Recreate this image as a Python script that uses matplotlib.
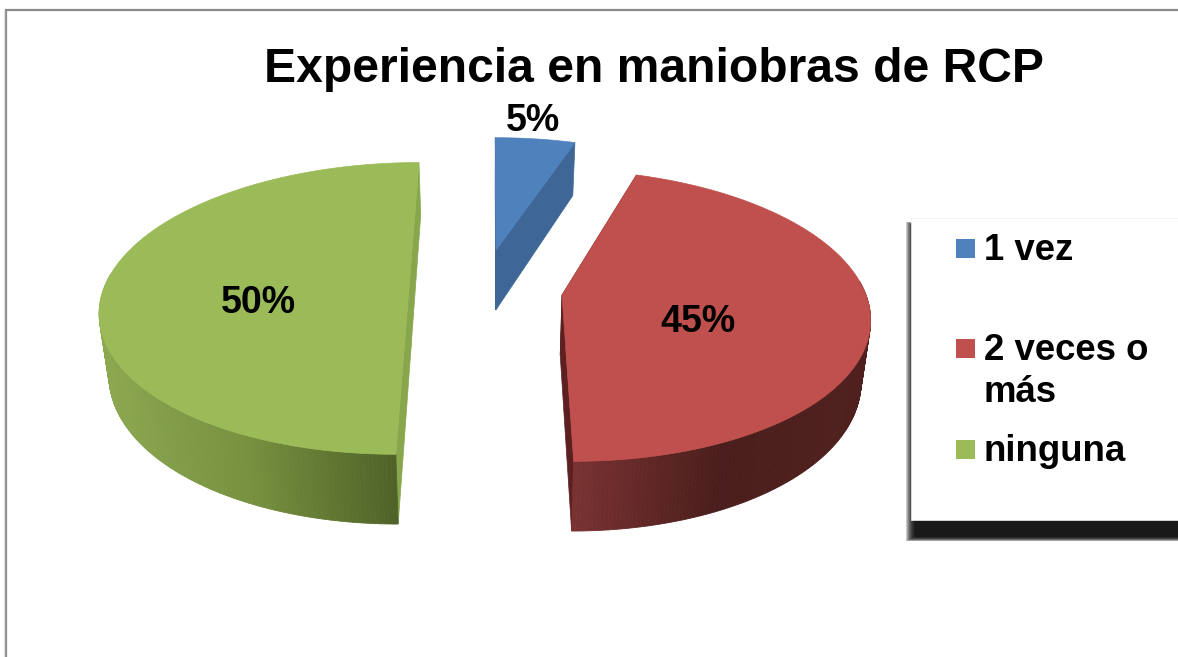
import numpy as np
import matplotlib
matplotlib.use("Agg")
import matplotlib.pyplot as plt
from matplotlib.colors import LinearSegmentedColormap
from matplotlib.patches import Rectangle

# Exploded 3D pie, perspective done by hand in pixel coordinates

title = "Experiencia en maniobras de RCP"
labels = ["1 vez", "2 veces o\nmás", "ninguna"]
values = [5, 45, 50]
pct_labels = ["5%", "45%", "50%"]

top_colors = ["#4F81BD", "#C0504D", "#9BBB59"]
cut_colors = ["#3E6797", "#5C2020", "#88A64C"]
wall_stops = [["#3E6797", "#3E6797"],
              ["#7A3232", "#4A1E1C", "#4F201E"],
              ["#8CA850", "#77913F", "#4F6328"]]

apex_x = [496, 562, 409]
apex_y = [250, 295, 288]
radius_x = [292, 304, 305]
radius_y = [128, 143, 143]
pct_x = [533, 698, 258]
pct_y = [121, 322, 303]
legend_y = [248, 348, 449]

vanish_x = 490
persp = 0.14
depth = 60
bottom_shrink = 0.975

plt.rcParams['font.family'] = ['Liberation Sans', 'DejaVu Sans']

fig = plt.figure(figsize=(11.78, 6.57), dpi=100)
ax = fig.add_axes([0, 0, 1, 1])
ax.set_xlim(0, 1178)
ax.set_ylim(657, 0)
ax.axis('off')

# page border
ax.plot([5.5, 5.5, 1178], [657, 10, 10], color="#8A8A8A", lw=1.6, solid_joinstyle='miter')
ax.plot([4, 4], [11, 657], color="#E2E2E2", lw=1)


def project(i, theta):
    u, v = np.cos(theta), np.sin(theta)
    s = 1 / (1 + persp * v)
    x = vanish_x + (apex_x[i] - vanish_x + radius_x[i] * u) * s
    y = apex_y[i] - radius_y[i] * v * s
    xb = vanish_x + (x - vanish_x) * bottom_shrink
    yb = y + depth * s
    return x, y, xb, yb


fractions = np.array(values) / sum(values)
ends = np.pi / 2 - np.cumsum(fractions) * 2 * np.pi
starts = np.r_[np.pi / 2, ends[:-1]]

# far slices first so the near ones sit over them
for i in [0, 2, 1]:
    th = np.linspace(starts[i], ends[i], 240)
    x, y, xb, yb = project(i, th)
    ax_ = apex_x[i]
    ay = apex_y[i]
    bx = vanish_x + (ax_ - vanish_x) * bottom_shrink
    by = ay + depth

    # cut faces
    ax.fill([x[0], xb[0], bx, ax_], [y[0], yb[0], by, ay], color=cut_colors[i], lw=0.5, zorder=2)
    ax.fill([x[-1], xb[-1], bx, ax_], [y[-1], yb[-1], by, ay], color=cut_colors[i], lw=0.5, zorder=2)

    # outer wall, lower half only, shaded by x
    cmap = LinearSegmentedColormap.from_list("wall", wall_stops[i])
    low = np.where(np.sin(th) < 0.1)[0]
    if len(low) > 1:
        xmin, xmax = x[low].min(), x[low].max()
        for a, b in zip(low[:-1], low[1:]):
            t = (x[a] - xmin) / (xmax - xmin)
            col = cmap(t)
            ax.fill([x[a], x[b], xb[b], xb[a]], [y[a], y[b], yb[b], yb[a]],
                    color=col, lw=0.6, zorder=3)

    # top face
    ax.fill(np.r_[ax_, x], np.r_[ay, y], color=top_colors[i], lw=0.5, zorder=4)
    ax.text(pct_x[i], pct_y[i], pct_labels[i], fontsize=27, fontweight='bold',
            ha='center', va='center', color='black', zorder=6)

ax.text(654, 70, title, fontsize=34.6, fontweight='bold', ha='center', va='center', color='black')

# legend box with soft shadow
for k in range(10):
    ax.add_patch(Rectangle((906 + k * 1.0, 222 + k * 0.4), 280, 319 - k * 0.9, color='black', alpha=0.2, lw=0, zorder=7))
ax.add_patch(Rectangle((911, 218), 270, 302, facecolor='white', edgecolor='#F0F0F0', lw=0.5, zorder=8))
for i, lab in enumerate(labels):
    ax.add_patch(Rectangle((956, legend_y[i] - 9), 19, 19, color=top_colors[i], lw=0, zorder=9))
    ax.text(984, legend_y[i] - 15, lab, fontsize=26.4, fontweight='bold', ha='left', va='top',
            linespacing=1.27, color='black', zorder=9)

fig.savefig("out.png", dpi=100)
